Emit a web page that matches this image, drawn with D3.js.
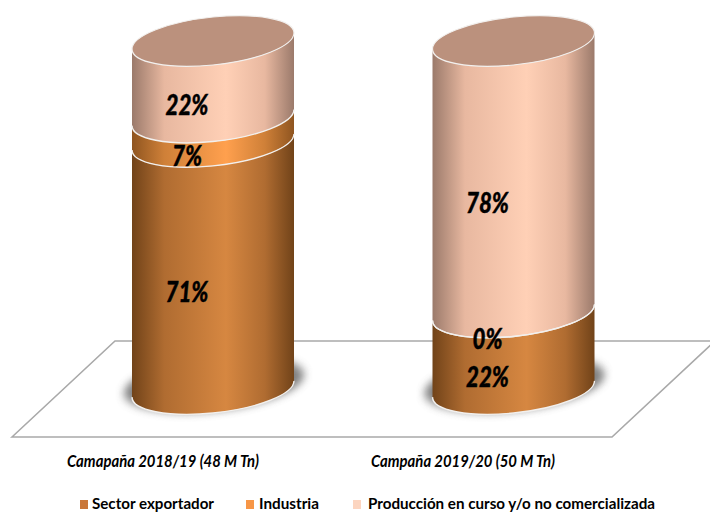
<!DOCTYPE html>
<html>
<head>
<meta charset="utf-8">
<script src="https://cdn.jsdelivr.net/npm/d3@7"></script>
<style>
  html, body { margin: 0; padding: 0; background: #fff; overflow: hidden; }
  svg { display: block; }
  text { font-family: Lato, "Open Sans", sans-serif; fill: #000; }
</style>
</head>
<body>
<div id="chart"></div>
<script>
// datos
const campaigns = ['Camapaña 2018/19 (48 M Tn)', 'Campaña 2019/20 (50 M Tn)'];
const seriesNames = ['Sector exportador', 'Industria', 'Producción en curso y/o no comercializada'];
const sectorExportador = [71, 22];
const industria = [7, 0];
const produccion = [22, 78];
const seriesValues = [sectorExportador, industria, produccion];

const width = 710, height = 513;
const rx = 81, ry = 24, skew = -0.1;   // elipse del cilindro
const depth = 26;                      // corrimiento 3D de las etiquetas

const palette = [
  { edge: '#714319', dark: '#b06c31', mid: '#d68741' },
  { edge: '#8f5520', dark: '#cf8038', mid: '#ffa04e' },
  { edge: '#9b7a6b', dark: '#e8b8a0', mid: '#ffd0b6' }
];
const legendColors = ['#c9773a', '#f79646', '#fcd5c0'];
const lidColor = '#bb917d';

const svg = d3.select('#chart').append('svg').attr('width', width).attr('height', height);

const x = d3.scalePoint().domain(campaigns).range([213, 513.5]);
const y = d3.scaleLinear().domain([0, 100]).range([389, 41]);

const defs = svg.append('defs');
palette.forEach((p, i) => {
  const g = defs.append('linearGradient').attr('id', `side${i}`)
    .attr('x1', 0).attr('x2', 1).attr('y1', 0).attr('y2', 0);
  [[0, p.edge], [0.2, p.dark], [0.58, p.mid], [0.82, p.dark], [1, p.edge]].forEach(s => {
    g.append('stop').attr('offset', s[0]).attr('stop-color', s[1]);
  });
});
defs.append('filter').attr('id', 'blur').attr('x', '-30%').attr('y', '-50%').attr('width', '160%').attr('height', '200%')
  .append('feGaussianBlur').attr('stdDeviation', 4);

// piso
const floorPts = [[12, 437], [115, 341], [715, 341], [612, 437]];
svg.append('path')
  .attr('d', d3.line()(floorPts) + 'Z')
  .attr('fill', '#fff').attr('stroke', '#a9a9a9').attr('stroke-width', 1.6);

const segPath = (y0, y1) =>
  `M${-rx},${y0}A${rx},${ry} 0 0 0 ${rx},${y0}L${rx},${y1}A${rx},${ry} 0 0 1 ${-rx},${y1}Z`;
const arcPath = yy => `M${-rx},${yy}A${rx},${ry} 0 0 0 ${rx},${yy}`;

campaigns.forEach((c, ci) => {
  const cyl = svg.append('g')
    .attr('transform', `matrix(1,${skew},0,1,${x(c)},0)`);

  cyl.append('ellipse')
    .attr('cx', 1).attr('cy', y(0) - 5).attr('rx', rx + 9).attr('ry', ry + 3)
    .attr('fill', '#6a6a6a').attr('opacity', 0.85).attr('filter', 'url(#blur)');

  let acc = 0;
  const stack = seriesValues.map((vals, si) => {
    const seg = { si, start: acc, end: acc + vals[ci], value: vals[ci] };
    acc += vals[ci];
    return seg;
  });

  cyl.selectAll('path.seg').data(stack).enter().append('path')
    .attr('class', 'seg')
    .attr('d', d => segPath(y(d.start), y(d.end)))
    .attr('fill', d => `url(#side${d.si})`);

  // lineas claras entre segmentos
  cyl.selectAll('path.rim').data(stack).enter().append('path')
    .attr('class', 'rim')
    .attr('d', d => arcPath(y(d.start)))
    .attr('fill', 'none').attr('stroke', '#f2f0ee').attr('stroke-width', 1.4);

  cyl.append('ellipse')
    .attr('cx', 0).attr('cy', y(100)).attr('rx', rx).attr('ry', ry)
    .attr('fill', lidColor).attr('stroke', '#f2f0ee').attr('stroke-width', 1.2);

  svg.selectAll(null).data(stack).enter().append('text')
    .attr('x', x(c) - depth)
    .attr('y', d => y((d.start + d.end) / 2) + depth)
    .attr('dy', '0.36em')
    .attr('text-anchor', 'middle')
    .attr('font-size', 28).attr('font-weight', 900).attr('font-style', 'italic')
    .attr('stroke', '#000').attr('stroke-width', 0.4)
    .attr('textLength', d => d.value >= 10 ? 43 : 30)
    .attr('lengthAdjust', 'spacingAndGlyphs')
    .text(d => `${d.value}%`);
});

// etiquetas de categoria
const catCenters = d3.scalePoint().domain(campaigns).range([163, 463]);
const catLengths = [192, 184];
svg.selectAll('text.cat').data(campaigns).enter().append('text')
  .attr('class', 'cat')
  .attr('x', d => catCenters(d)).attr('y', 467)
  .attr('text-anchor', 'middle')
  .attr('font-size', 17).attr('font-weight', 700).attr('font-style', 'italic')
  .attr('textLength', (d, i) => catLengths[i]).attr('lengthAdjust', 'spacingAndGlyphs')
  .text(d => d);

// leyenda
const legendX = [80, 246, 353];
const legendLengths = [122, 60, 287];
const legend = svg.selectAll('g.legend').data(seriesNames).enter().append('g')
  .attr('class', 'legend')
  .attr('transform', (d, i) => `translate(${legendX[i]},0)`);
legend.append('rect')
  .attr('x', 0).attr('y', 500).attr('width', 8).attr('height', 9)
  .attr('fill', (d, i) => legendColors[i]);
legend.append('text')
  .attr('x', (d, i) => i === 2 ? 15 : (i === 1 ? 13 : 12)).attr('y', 509)
  .attr('font-size', 16).attr('font-weight', 700)
  .attr('textLength', (d, i) => legendLengths[i]).attr('lengthAdjust', 'spacingAndGlyphs')
  .text(d => d);
</script>
</body>
</html>
